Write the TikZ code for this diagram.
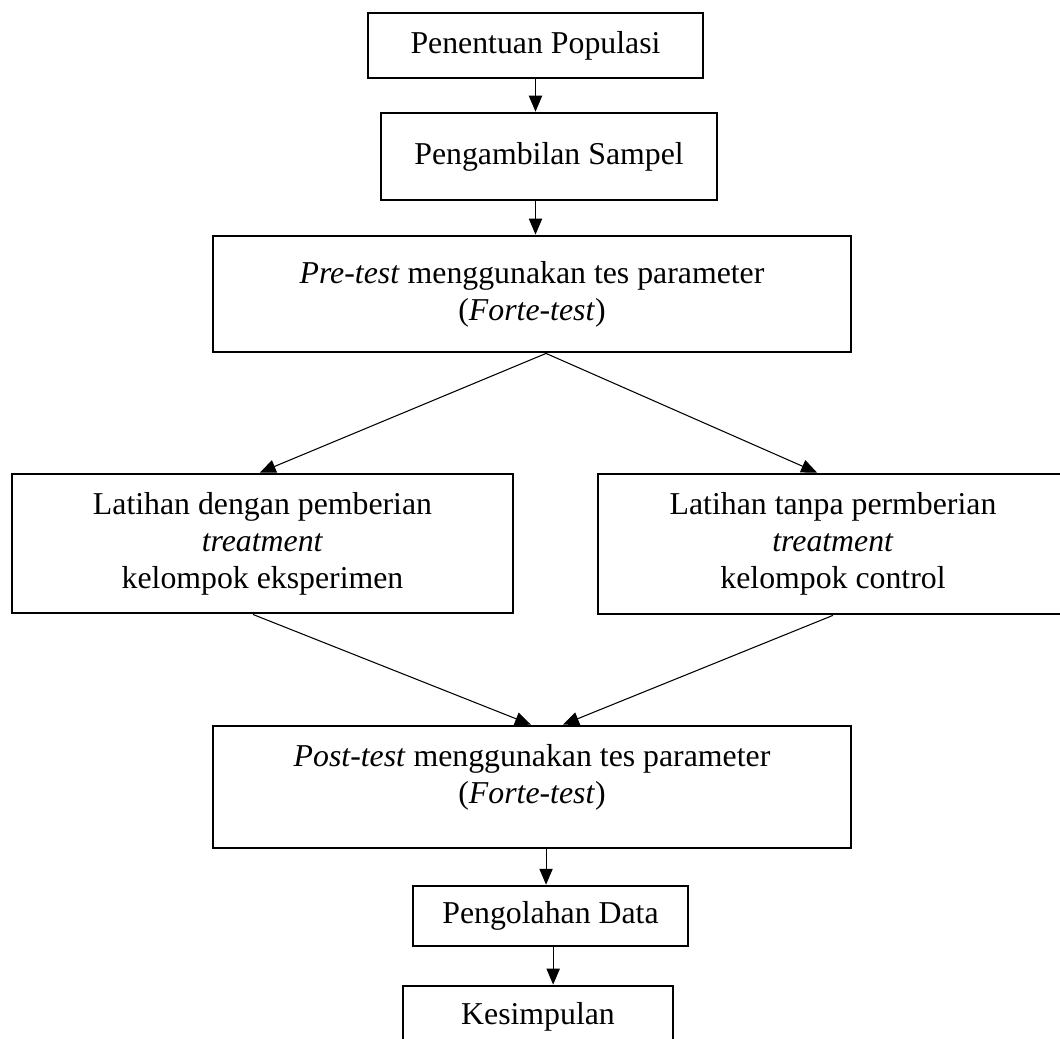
\documentclass[tikz,border=0pt]{standalone}
\usepackage{fontspec}
\setmainfont{Liberation Serif}
\usetikzlibrary{arrows.meta}

\begin{document}
\begin{tikzpicture}[x=0.37736pt,y=-0.37736pt,
    kotak/.style={draw=black, line width=1.05pt, align=center, inner sep=2pt,
      font=\fontsize{12pt}{14pt}\selectfont},
    panah/.style={draw=black, line width=0.4pt, -{Triangle[length=6pt,width=5pt]}}]
      \clip (0,0) rectangle (1060,1038);

      \node[kotak, minimum width=126.4pt, minimum height=24.5pt] (populasi) at (535.5,45.5) {Penentuan Populasi};
      \node[kotak, minimum width=126.8pt, minimum height=32.8pt] (sampel) at (549,156.5) {Pengambilan Sampel};
      \node[kotak, minimum width=240.8pt, minimum height=43.8pt] (pretest) at (532,294)
        {\textit{Pre-test} menggunakan tes parameter\\(\textit{Forte-test})};
      \node[kotak, minimum width=189.1pt, minimum height=52.5pt] (eksperimen) at (262.5,543.5)
        {Latihan dengan pemberian\\\textit{treatment}\\kelompok eksperimen};
      \node[kotak, minimum width=177.4pt, minimum height=52.8pt] (kontrol) at (833,544)
        {Latihan tanpa permberian\\\textit{treatment}\\kelompok control};
      \node[kotak, minimum width=240.8pt, minimum height=46pt] (posttest) at (532,787)
        {\textit{Post-test} menggunakan tes parameter\\(\textit{Forte-test})\rule[-9.8pt]{0pt}{9.8pt}};
      \node[kotak, minimum width=103.8pt, minimum height=22.6pt] (olah) at (550.5,916) {Pengolahan Data};
      \node[kotak, minimum width=101.9pt, minimum height=23.4pt] (simpulan) at (538,1017) {Kesimpulan};

      \coordinate (cabang) at ([xshift=5.3pt]pretest.south);

      \draw[panah] (populasi.south) -- (populasi.south |- sampel.north);
      \draw[panah] (sampel.south -| populasi.south) -- (pretest.north -| populasi.south);
      \draw[panah] (cabang) -- ([xshift=-1pt]eksperimen.north);
      \draw[panah] (cabang) -- ([xshift=-6pt]kontrol.north);
      \draw[panah] ([xshift=-3.6pt]eksperimen.south) -- ([xshift=-0.4pt]posttest.north);
      \draw[panah] (kontrol.south) -- ([xshift=11.7pt]posttest.north);
      \draw[panah] (posttest.south -| cabang) -- (olah.north -| cabang);
      \draw[panah] ([xshift=1pt]olah.south) -- ([xshift=1pt]olah.south |- simpulan.north);

    \end{tikzpicture}
\end{document}
